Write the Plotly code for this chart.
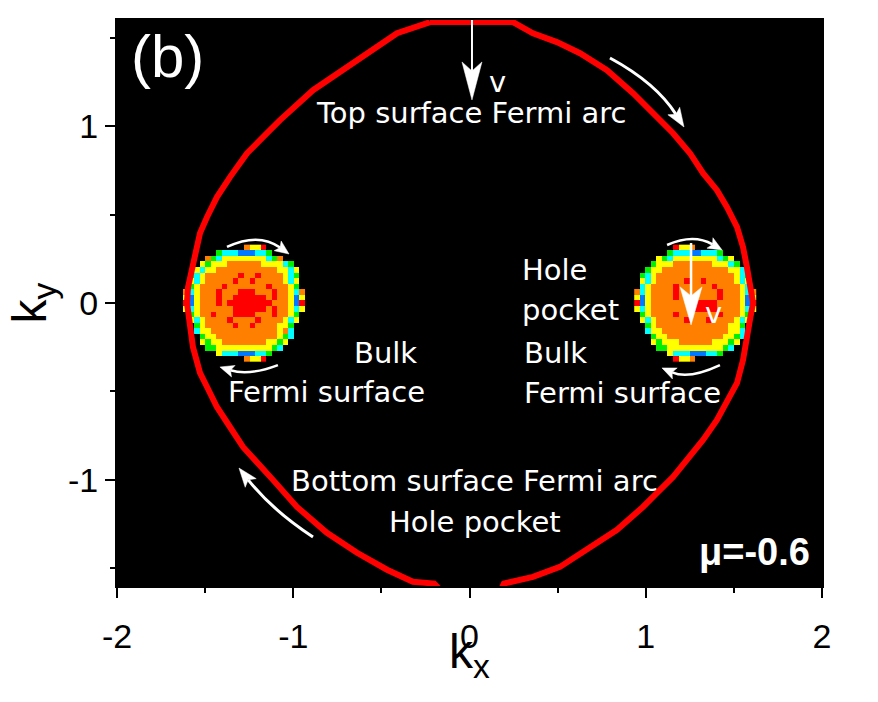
import plotly.graph_objects as go
import math

# ---------------- data ----------------
# surface Fermi arc (red ring), clockwise from the top
ring_kx = [-0.224, 0.247, 0.360, 0.496, 0.627, 0.780, 0.928, 1.081, 1.155, 1.251,
           1.325, 1.404, 1.461, 1.518, 1.552, 1.574, 1.591, 1.609, 1.591, 1.574,
           1.552, 1.518, 1.461, 1.404, 1.325, 1.234, 1.155, 1.064, 0.984, 0.837,
           0.684, 0.513, 0.360, 0.230, 0.195, 0.170, -0.150, -0.200, -0.321, -0.468,
           -0.638, -0.809, -0.979, -1.115, -1.206, -1.285, -1.359, -1.433, -1.489, -1.529,
           -1.569, -1.586, -1.603, -1.597, -1.574, -1.557, -1.529, -1.489, -1.433, -1.359,
           -1.262, -1.149, -1.075, -0.888, -0.661, -0.411, -0.224]
ring_ky = [1.588, 1.588, 1.525, 1.475, 1.412, 1.316, 1.186, 1.040, 0.960, 0.847,
           0.734, 0.638, 0.542, 0.429, 0.316, 0.203, 0.090, 0.000, -0.096, -0.209,
           -0.322, -0.452, -0.565, -0.661, -0.774, -0.887, -0.983, -1.073, -1.153, -1.282,
           -1.379, -1.492, -1.548, -1.582, -1.586, -1.640, -1.640, -1.586, -1.576, -1.508,
           -1.412, -1.299, -1.153, -1.000, -0.904, -0.814, -0.701, -0.588, -0.475, -0.395,
           -0.249, -0.136, 0.000, 0.090, 0.186, 0.282, 0.395, 0.486, 0.599, 0.712,
           0.847, 0.960, 1.034, 1.203, 1.356, 1.525, 1.588]

# bulk Fermi-surface pockets, one character per pixel cell (top row first)
# B=blue C=cyan G=green Y=yellow O=orange R=red .=empty
pocket_left_map = [
    "...........OYYR.......",
    "......GCCCBBBCCG......",
    "....OGCYYYYYYYYCGO....",
    "...YGYYYOOOOOOYYYYCG..",
    "..YCYYOOOOOOOOOOOYYCY.",
    ".GCYOOOOOOROOROOOOYCG.",
    ".YCYOOOOOROOROOOOOYCY.",
    ".GYOOOOROOOOOOOROOOYG.",
    "OCYOOOROOORRROOOROOYCO",
    "YBYOOOROORRRRRROROOYBY",
    "RBYOOORORRRRRRRROOOYBR",
    "YCYOOOOOORRRRRROROOYCY",
    ".GYOOROOORRRROOOROOYG.",
    ".YCYOOOOROOOOROOOOYCY.",
    "..GYOOOOOROOROOOOYYG..",
    "..CYYOOOOOOOOOOOOYOC..",
    "...GYYOOOOOOOOOOOYGC..",
    "...YGYYOOOOOOOOYYGY...",
    "....GGYYYYYYYYYYGC....",
    "......YCCCBBBCCG......",
    "...........OYYR.......",
]
pocket_right_map = [
    ".......RYYO...........",
    "......GCCCBBCCCG......",
    "....YGCYYYYYYYYCGY....",
    "...GYYYOOOOOOOYYYCG...",
    "..GYYOOOOOOOOOOOOYYC..",
    ".GCYOOOOOOOOOOOOOOYCG.",
    ".YCYOOOOOROOROOOOOYCY.",
    ".CYOOOOROOOOOOROOOOYC.",
    "OCYOOOOROOOOOOOROOOYCO",
    "YBYOOOOROOOOOOOROOOYBY",
    "RBYOOOOOOOORRRROOOOYBR",
    "YCYOOOOOOORRRRROOOOYCY",
    ".GYOOOOROOOOOOOROOOYG.",
    ".YCYOOOOOROOOROOOOYCY.",
    "..GYOOOOOOOOOOOOOYYG..",
    "..CYYOOOOOOOOOOOOYYC..",
    "...GYYOOOOOOOOOOYYGC..",
    "...YGYYYOOOOOOYYYGY...",
    "....GGYYYYYYYYYYGC....",
    "......YCCCBBBCCG......",
    ".......RYYO...........",
]
pocket_centers_kx = [-1.28, 1.28]
pocket_center_ky = 0.0

x_tick_vals = [-2, -1, 0, 1, 2]
x_tick_text = ["-2", "-1", "0", "1", "2"]
y_tick_vals = [-1, 0, 1]
y_tick_text = ["-1", "0", "1"]

# ---------------- styling ----------------
cell = 0.0314
level = {"B": 0, "C": 1, "G": 2, "Y": 3, "O": 4, "R": 5}
level_colors = ["#0078FF", "#00FFFF", "#00F000", "#FFFF00", "#FF8000", "#FF0000"]
cscale = []
for i, c in enumerate(level_colors):
    cscale.append([i / 6, c])
    cscale.append([(i + 1) / 6, c])

W, H = 878, 702
ML, MR, MT, MB = 117, 56, 20, 116
XR = [-2, 2]
YR = [-1.6, 1.6]
sx = (W - ML - MR) / (XR[1] - XR[0])
sy = (H - MT - MB) / (YR[1] - YR[0])

fig = go.Figure()

fig.add_trace(go.Scatter(x=ring_kx, y=ring_ky, mode="lines",
                         line=dict(color="#FF0000", width=6),
                         hoverinfo="skip", showlegend=False))


def pocket_trace(rows, cx, cy):
    nr = len(rows)
    nc = max(len(r) for r in rows)
    rows = [r.ljust(nc, ".")[:nc] for r in rows]
    rows_up = rows[::-1]
    z = [[level.get(ch) for ch in r] for r in rows_up]
    xs = [cx + (c - (nc - 1) / 2) * cell for c in range(nc)]
    ys = [cy + (r - (nr - 1) / 2) * cell for r in range(nr)]
    return go.Heatmap(z=z, x=xs, y=ys, colorscale=cscale, zmin=-0.5, zmax=5.5,
                      showscale=False, hoverinfo="skip")


fig.add_trace(pocket_trace(pocket_left_map, pocket_centers_kx[0], pocket_center_ky))
fig.add_trace(pocket_trace(pocket_right_map, pocket_centers_kx[1], pocket_center_ky))


# ---------------- arrows ----------------
def to_px(x, y):
    return (ML + (x - XR[0]) * sx, MT + (YR[1] - y) * sy)


def to_data(px, py):
    return (XR[0] + (px - ML) / sx, YR[1] - (py - MT) / sy)


def head(tip, frm, L, Wd, notch):
    tp = to_px(*tip)
    fp = to_px(*frm)
    dx, dy = tp[0] - fp[0], tp[1] - fp[1]
    n = math.hypot(dx, dy)
    ux, uy = dx / n, dy / n
    nx, ny = -uy, ux
    b = (tp[0] - L * ux, tp[1] - L * uy)
    p1 = to_data(b[0] + Wd / 2 * nx, b[1] + Wd / 2 * ny)
    p2 = to_data(b[0] - Wd / 2 * nx, b[1] - Wd / 2 * ny)
    pn = to_data(tp[0] - (L - notch) * ux, tp[1] - (L - notch) * uy)
    path = (f"M{tip[0]},{tip[1]} L{p1[0]},{p1[1]} L{pn[0]},{pn[1]} "
            f"L{p2[0]},{p2[1]} Z")
    return path, pn


shapes = []


def straight_arrow(start, tip, lw, L, Wd, notch):
    path, pn = head(tip, start, L, Wd, notch)
    shapes.append(dict(type="line", x0=start[0], y0=start[1], x1=pn[0], y1=pn[1],
                       xref="x", yref="y", line=dict(color="white", width=lw)))
    shapes.append(dict(type="path", path=path, xref="x", yref="y",
                       fillcolor="white", line=dict(color="white", width=0.5)))


def curved_arrow(tail, ctrl, tip, lw, L, Wd, notch):
    path, pn = head(tip, ctrl, L, Wd, notch)
    shapes.append(dict(type="path",
                       path=f"M{tail[0]},{tail[1]} Q{ctrl[0]},{ctrl[1]} {pn[0]},{pn[1]}",
                       xref="x", yref="y", line=dict(color="white", width=lw)))
    shapes.append(dict(type="path", path=path, xref="x", yref="y",
                       fillcolor="white", line=dict(color="white", width=0.5)))


straight_arrow((0.014, 1.62), (0.014, 1.148), 2, 38, 20, 9)
straight_arrow((1.257, 0.339), (1.257, -0.124), 2.5, 38, 22, 9)
curved_arrow((0.797, 1.385), (1.058, 1.244), (1.217, 0.995), 3, 19, 14, 4)
curved_arrow((-0.888, -1.323), (-1.121, -1.170), (-1.308, -0.933), 3, 19, 14, 4)
curved_arrow((-1.376, 0.317), (-1.197, 0.401), (-1.024, 0.277), 2.5, 14, 12, 3)
curved_arrow((-1.087, -0.351), (-1.251, -0.413), (-1.416, -0.362), 2.5, 14, 12, 3)
curved_arrow((1.121, 0.328), (1.271, 0.393), (1.433, 0.300), 2.5, 14, 12, 3)
curved_arrow((1.421, -0.351), (1.245, -0.433), (1.092, -0.367), 2.5, 14, 12, 3)

# ---------------- text ----------------
TXT = dict(family="DejaVu Sans", size=29, color="white")
annotations = []


def label(text, x, y, xanchor="center", font=None):
    annotations.append(dict(text=text, x=x, y=y, xref="x", yref="y",
                            xanchor=xanchor, yanchor="middle", showarrow=False,
                            font=font or TXT))


label("(b)", -1.716, 1.395, font=dict(family="Liberation Sans", size=60, color="white"))
label("Top surface Fermi arc", 0.009, 1.074)
label("v", 0.156, 1.25)
label("Hole", 0.287, 0.187, xanchor="left")
label("pocket", 0.287, -0.040, xanchor="left")
label("Bulk", 0.298, -0.283, xanchor="left")
label("Fermi surface", 0.298, -0.509, xanchor="left")
label("v", 1.382, -0.057)
label("Bulk", -0.479, -0.283)
label("Fermi surface", -0.814, -0.503)
label("Bottom surface Fermi arc", 0.031, -1.006)
label("Hole pocket", 0.031, -1.238)
label("<b>μ=-0.6</b>", 1.943, -1.408, xanchor="right",
      font=dict(family="Liberation Sans", size=38, color="white"))

# x-axis title placed as paper text so it can sit tight under the tick labels
annotations.append(dict(text="k<sub>x</sub>", x=0.5, y=-0.122, xref="paper", yref="paper",
                        xanchor="center", yanchor="middle", showarrow=False,
                        font=dict(family="Liberation Sans", size=48, color="black")))

AX_FONT = dict(family="Liberation Sans", size=34, color="black")
fig.update_layout(
    width=W, height=H,
    margin=dict(l=ML, r=MR, t=MT, b=MB),
    paper_bgcolor="white", plot_bgcolor="black",
    showlegend=False,
    shapes=shapes, annotations=annotations,
    xaxis=dict(range=XR, tickmode="array", tickvals=x_tick_vals, ticktext=x_tick_text,
               ticks="outside", ticklen=10, tickwidth=2, tickcolor="black",
               showgrid=False, zeroline=False, showline=True, linecolor="black",
               linewidth=2, mirror=True, tickfont=AX_FONT, automargin=False,
               ticklabelstandoff=9,
               minor=dict(dtick=0.5, tick0=0, ticks="outside", ticklen=5,
                          tickwidth=2, tickcolor="black", showgrid=False)),
    yaxis=dict(range=YR, tickmode="array", tickvals=y_tick_vals, ticktext=y_tick_text,
               ticks="outside", ticklen=10, tickwidth=2, tickcolor="black",
               showgrid=False, zeroline=False, showline=True, linecolor="black",
               linewidth=2, mirror=True, tickfont=AX_FONT, automargin=False,
               minor=dict(dtick=0.5, tick0=0, ticks="outside", ticklen=5,
                          tickwidth=2, tickcolor="black", showgrid=False),
               title=dict(text="k<sub>y</sub>", standoff=6,
                          font=dict(family="Liberation Sans", size=48, color="black"))),
)

fig.write_html("out.html",
               config={"displayModeBar": False},
               post_script="document.body.style.margin='0px';"
                           "document.body.style.overflow='hidden';")
